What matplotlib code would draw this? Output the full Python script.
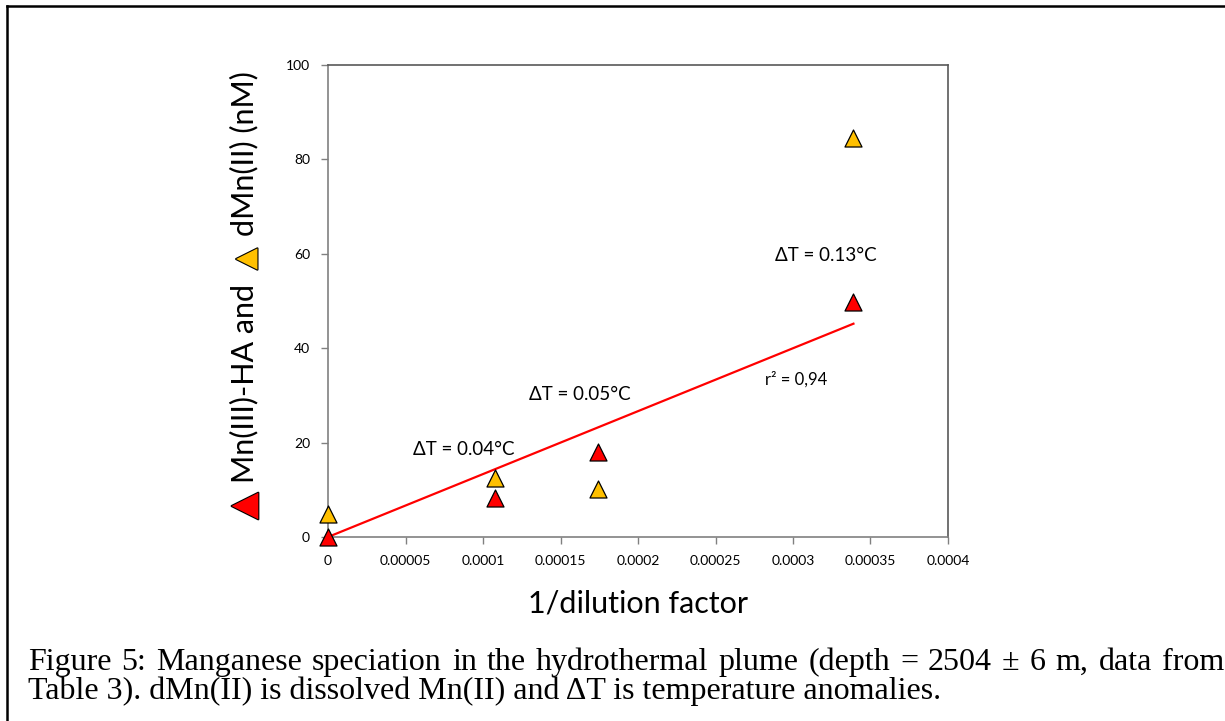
import numpy as np
import matplotlib
matplotlib.use("Agg")
import matplotlib.pyplot as plt
from matplotlib import patheffects as pe
from matplotlib.lines import Line2D

# Inverse dilution factor for the plume samples
inv_dilution = [0.0, 0.000108, 0.000174, 0.000339]
# Mn(III)-HA concentrations (nM)
mn3_ha = [0.0, 8.3, 18.0, 49.8]
# Dissolved Mn(II) concentrations (nM)
dmn2 = [4.9, 12.5, 10.2, 84.5]

# Temperature anomaly labels
dt_labels = ["ΔT = 0.04°C", "ΔT = 0.05°C", "ΔT = 0.13°C"]
dt_pos = [(0.0000877, 18.6), (0.0001625, 30.1), (0.000321, 59.7)]

x_ticks = [0, 0.00005, 0.0001, 0.00015, 0.0002, 0.00025, 0.0003, 0.00035, 0.0004]
x_tick_labels = ["0", "0.00005", "0.0001", "0.00015", "0.0002", "0.00025", "0.0003", "0.00035", "0.0004"]
y_ticks = [0, 20, 40, 60, 80, 100]

caption_lines = [
    "Figure 5: Manganese speciation in the hydrothermal plume (depth = 2504 ± 6 m, data from",
    "Table 3). dMn(II) is dissolved Mn(II) and ΔT is temperature anomalies.",
]

RED = "#FF0000"
GOLD = "#FFC000"
SANS = ["Lato", "DejaVu Sans"]
SERIF = ["Liberation Serif", "DejaVu Serif"]

W, H = 1225, 721
fig = plt.figure(figsize=(W / 100, H / 100), dpi=100)
ax = fig.add_axes([328 / W, 1 - 537 / H, 620 / W, 472 / H])

# Linear trend through the origin for Mn(III)-HA
x_arr = np.array(inv_dilution)
y_arr = np.array(mn3_ha)
slope = np.sum(x_arr * y_arr) / np.sum(x_arr ** 2)
ax.plot([0, x_arr.max()], [0, slope * x_arr.max()], color=RED, lw=1.6, zorder=2)

ax.scatter(inv_dilution, dmn2, marker="^", s=150, facecolor=GOLD,
           edgecolor="black", linewidth=0.9, zorder=3, clip_on=False)
ax.scatter(inv_dilution, mn3_ha, marker="^", s=150, facecolor=RED,
           edgecolor="black", linewidth=0.9, zorder=4, clip_on=False)

for lab, (tx, ty) in zip(dt_labels, dt_pos):
    ax.text(tx, ty, lab, ha="center", va="center", fontsize=13.5, family=SANS)
ax.text(0.000302, 33.3, "r² = 0,94", ha="center", va="center",
        fontsize=12, family=SANS)

ax.set_xlim(0, 0.0004)
ax.set_ylim(0, 100)
ax.set_xticks(x_ticks)
ax.set_xticklabels(x_tick_labels)
ax.set_yticks(y_ticks)
for lbl in ax.get_xticklabels() + ax.get_yticklabels():
    lbl.set_family(SANS)
    lbl.set_fontsize(10)
ax.tick_params(axis="both", direction="out", length=5, width=1.0,
               color="#808080", pad=8)
for sp in ax.spines.values():
    sp.set_color("#595959")
    sp.set_linewidth(1.2)
ax.spines["left"].set_color("#808080")
ax.spines["bottom"].set_color("#808080")

ax.set_xlabel("1/dilution factor", fontsize=22, family=SANS, labelpad=16)

# Composite y-axis label with coloured triangle symbols
ylab_x = 244 / W
tri_fx = [pe.Stroke(linewidth=1.6, foreground="black"), pe.Normal()]
fig.text(ylab_x, 1 - 506 / H, "▲", rotation=90, ha="center", va="center",
         fontsize=25, color=RED, family="DejaVu Sans", path_effects=tri_fx)
fig.text(ylab_x, 1 - 383 / H, "Mn(III)-HA and", rotation=90, ha="center",
         va="center", fontsize=22, family=SANS)
fig.text(ylab_x + 2 / W, 1 - 259 / H, "▲", rotation=90, ha="center", va="center",
         fontsize=20, color=GOLD, family="DejaVu Sans", path_effects=tri_fx)
fig.text(ylab_x, 1 - 154 / H, "dMn(II) (nM)", rotation=90, ha="center",
         va="center", fontsize=22, family=SANS)

# Page frame
fig.add_artist(Line2D([7 / W, 7 / W], [0, 1 - 6 / H],
                      transform=fig.transFigure, color="black", lw=1.8))
fig.add_artist(Line2D([7 / W, 1], [1 - 6 / H, 1 - 6 / H],
                      transform=fig.transFigure, color="black", lw=1.8))

# Caption: first line justified across the text block, second line left-aligned
cap_size = 23
cap_left, cap_right = 28, 1224
renderer = fig.canvas.get_renderer()
words = caption_lines[0].split(" ")
word_artists = [fig.text(0, 0, w, fontsize=cap_size, family=SERIF, va="baseline")
                for w in words]
widths = [t.get_window_extent(renderer=renderer).width for t in word_artists]
gap = (cap_right - cap_left - sum(widths)) / (len(words) - 1)
xpos = cap_left
for t, w in zip(word_artists, widths):
    t.set_position((xpos / W, 1 - 670 / H))
    xpos += w + gap
fig.text(cap_left / W, 1 - 699 / H, caption_lines[1], fontsize=cap_size,
         family=SERIF, va="baseline")

fig.savefig("out.png", dpi=100, facecolor="white")
